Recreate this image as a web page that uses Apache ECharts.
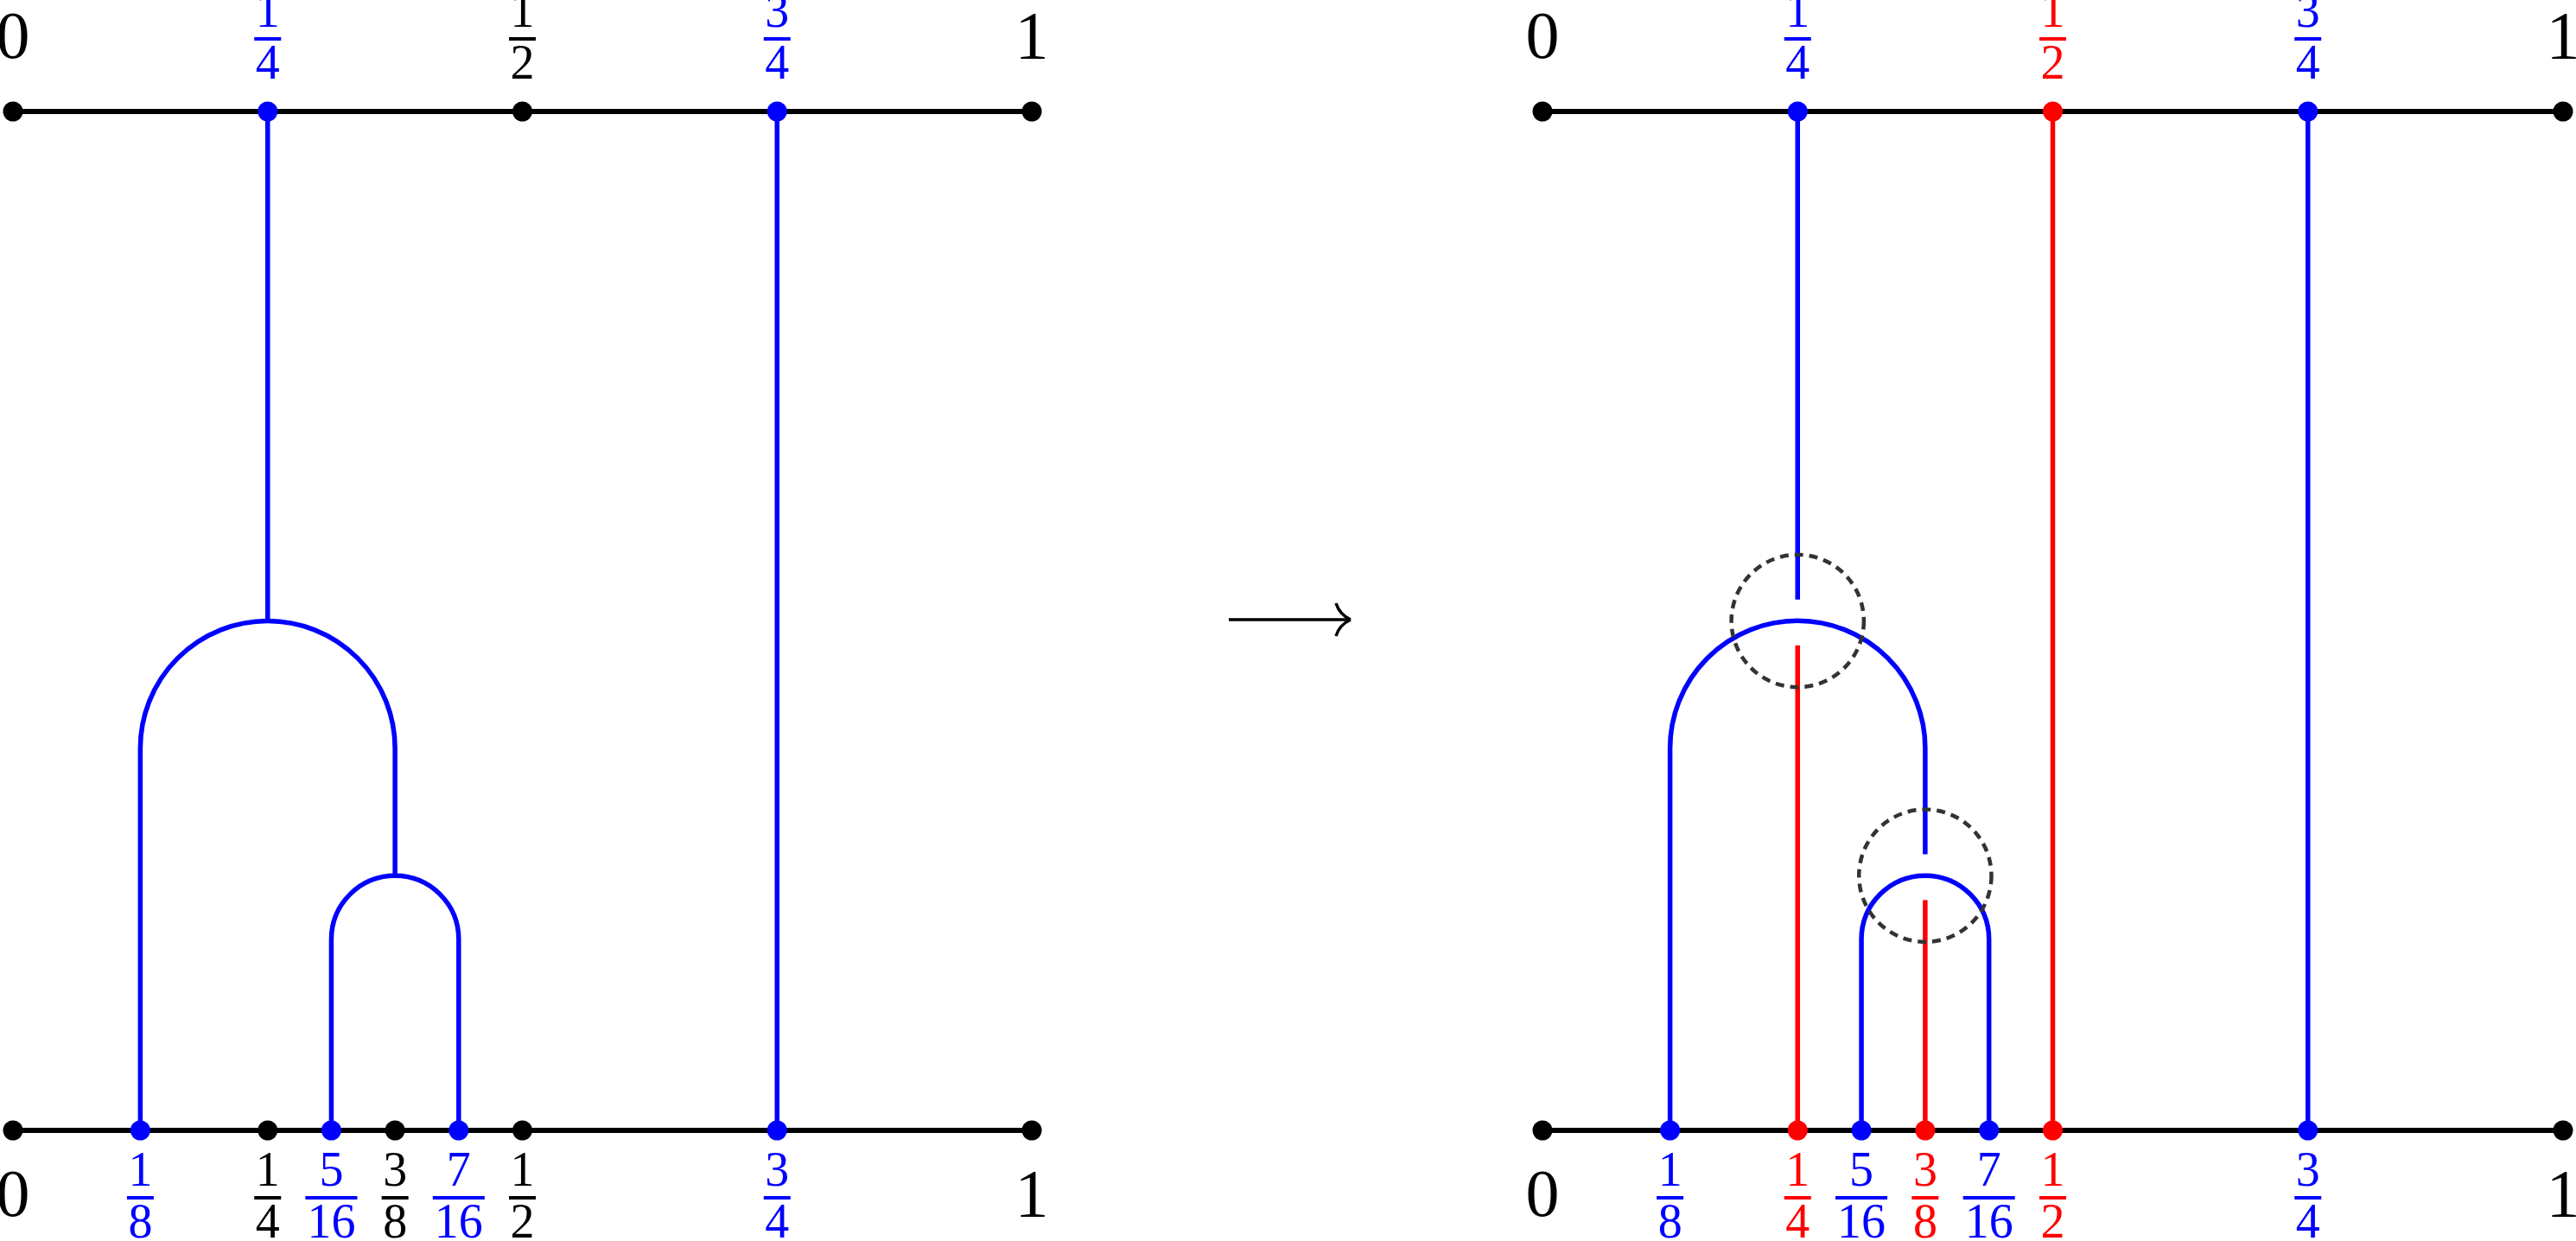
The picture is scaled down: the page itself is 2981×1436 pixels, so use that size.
<!DOCTYPE html>
<html><head><meta charset="utf-8">
<script src="https://cdn.jsdelivr.net/npm/echarts@6/dist/echarts.min.js"></script>
<style>html,body{margin:0;padding:0;background:#fff}#c{width:2981px;height:1436px}</style>
</head><body><div id="c"></div>
<script>
const BLUE='#0000ff', RED='#ff0000', BLACK='#000000';
// axis lines: [panel, y]
const axisLines=[[0,1],[0,0],[1,1],[1,0]];
// segments: [panel, x, y0, y1, color]
const segments=[
 [0,0.25,1,0.5,BLUE],[0,0.125,0,0.375,BLUE],[0,0.375,0.375,0.25,BLUE],
 [0,0.3125,0,0.1875,BLUE],[0,0.4375,0,0.1875,BLUE],[0,0.75,0,1,BLUE],
 [1,0.25,1,0.521,BLUE],[1,0.25,0,0.476,RED],[1,0.5,0,1,RED],
 [1,0.125,0,0.375,BLUE],[1,0.375,0.375,0.271,BLUE],[1,0.375,0,0.226,RED],
 [1,0.3125,0,0.1875,BLUE],[1,0.4375,0,0.1875,BLUE],[1,0.75,0,1,BLUE]
];
// arcs: [panel, cx, cy, r]
const arcs=[[0,0.25,0.375,0.125],[0,0.375,0.1875,0.0625],[1,0.25,0.375,0.125],[1,0.375,0.1875,0.0625]];
// dashed circles: [panel, cx, cy, r]
const circles=[[1,0.25,0.5,0.065],[1,0.375,0.25,0.065]];
// points: [panel, x, y, color]
const points=[
 [0,0,1,BLACK],[0,0.25,1,BLUE],[0,0.5,1,BLACK],[0,0.75,1,BLUE],[0,1,1,BLACK],
 [0,0,0,BLACK],[0,0.125,0,BLUE],[0,0.25,0,BLACK],[0,0.3125,0,BLUE],[0,0.375,0,BLACK],[0,0.4375,0,BLUE],[0,0.5,0,BLACK],[0,0.75,0,BLUE],[0,1,0,BLACK],
 [1,0,1,BLACK],[1,0.25,1,BLUE],[1,0.5,1,RED],[1,0.75,1,BLUE],[1,1,1,BLACK],
 [1,0,0,BLACK],[1,0.125,0,BLUE],[1,0.25,0,RED],[1,0.3125,0,BLUE],[1,0.375,0,RED],[1,0.4375,0,BLUE],[1,0.5,0,RED],[1,0.75,0,BLUE],[1,1,0,BLACK]
];
// labels: [panel, x, y(axis), numerator, denominator('' = plain), color]
const labels=[
 [0,0,1,'0','',BLACK],[0,0.25,1,'1','4',BLUE],[0,0.5,1,'1','2',BLACK],[0,0.75,1,'3','4',BLUE],[0,1,1,'1','',BLACK],
 [0,0,0,'0','',BLACK],[0,0.125,0,'1','8',BLUE],[0,0.25,0,'1','4',BLACK],[0,0.3125,0,'5','16',BLUE],[0,0.375,0,'3','8',BLACK],[0,0.4375,0,'7','16',BLUE],[0,0.5,0,'1','2',BLACK],[0,0.75,0,'3','4',BLUE],[0,1,0,'1','',BLACK],
 [1,0,1,'0','',BLACK],[1,0.25,1,'1','4',BLUE],[1,0.5,1,'1','2',RED],[1,0.75,1,'3','4',BLUE],[1,1,1,'1','',BLACK],
 [1,0,0,'0','',BLACK],[1,0.125,0,'1','8',BLUE],[1,0.25,0,'1','4',RED],[1,0.3125,0,'5','16',BLUE],[1,0.375,0,'3','8',RED],[1,0.4375,0,'7','16',BLUE],[1,0.5,0,'1','2',RED],[1,0.75,0,'3','4',BLUE],[1,1,0,'1','',BLACK]
];
const FONT='"Liberation Serif", serif';
const chart=echarts.init(document.getElementById('c'));
const series=[];
[0,1].forEach(p=>{
  axisLines.filter(a=>a[0]===p).forEach(a=>series.push({type:'line',xAxisIndex:p,yAxisIndex:p,data:[[0,a[1]],[1,a[1]]],symbol:'none',lineStyle:{color:BLACK,width:6},z:2,silent:true}));
  segments.filter(s=>s[0]===p).forEach(s=>series.push({type:'line',xAxisIndex:p,yAxisIndex:p,data:[[s[1],s[2]],[s[1],s[3]]],symbol:'none',lineStyle:{color:s[4],width:5.5},z:3,silent:true}));
  series.push({type:'custom',xAxisIndex:p,yAxisIndex:p,z:3,silent:true,
    data:arcs.filter(a=>a[0]===p).map(a=>[a[1],a[2],a[3]]),
    renderItem:(params,api)=>{const c=api.coord([api.value(0),api.value(1)]);const r=api.size([api.value(2),0])[0];
      return {type:'arc',shape:{cx:c[0],cy:c[1],r:r,startAngle:Math.PI,endAngle:2*Math.PI,clockwise:true},style:{fill:null,stroke:BLUE,lineWidth:5.5}};}});
  const C=circles.filter(a=>a[0]===p);
  if(C.length) series.push({type:'custom',xAxisIndex:p,yAxisIndex:p,z:5,silent:true,
    data:C.map(a=>[a[1],a[2],a[3]]),
    renderItem:(params,api)=>{const c=api.coord([api.value(0),api.value(1)]);const r=api.size([0,api.value(2)])[1];
      return {type:'circle',shape:{cx:c[0],cy:c[1],r:r},style:{fill:null,stroke:'#333',lineWidth:4.5,lineDash:[10,7]}};}});
  series.push({type:'scatter',xAxisIndex:p,yAxisIndex:p,z:6,silent:true,symbolSize:23,
    data:points.filter(a=>a[0]===p).map(a=>({value:[a[1],a[2]],itemStyle:{color:a[3],opacity:1}}))});
  const L=labels.filter(a=>a[0]===p);
  series.push({type:'custom',xAxisIndex:p,yAxisIndex:p,z:7,silent:true,clip:false,
    data:L.map(a=>[a[1],a[2]]),
    renderItem:(params,api)=>{const l=L[params.dataIndex];const c=api.coord([api.value(0),api.value(1)]);
      const top=l[2]===1, col=l[5];
      if(!l[4]){return {type:'text',x:c[0],y:c[1]+(top?-82:79),style:{text:l[3],font:'78px '+FONT,fill:col,align:'center',verticalAlign:'middle'}};}
      const bar=top?-84:78;const w=l[4].length>1?60:31;
      return {type:'group',children:[
        {type:'text',x:c[0],y:c[1]+bar-29,style:{text:l[3],font:'56px '+FONT,fill:col,align:'center',verticalAlign:'middle'}},
        {type:'rect',shape:{x:c[0]-w/2,y:c[1]+bar-2,width:w,height:4},style:{fill:col}},
        {type:'text',x:c[0],y:c[1]+bar+31,style:{text:l[4],font:'56px '+FONT,fill:col,align:'center',verticalAlign:'middle'}}
      ]};}});
});
const ax=i=>({type:'value',min:0,max:1,gridIndex:i,show:false});
chart.setOption({
  animation:false,
  grid:[{left:15,top:129,width:1179,height:1179},{left:1785,top:129,width:1181,height:1179}],
  xAxis:[ax(0),ax(1)],yAxis:[ax(0),ax(1)],
  series:series,
  graphic:[
    {type:'line',shape:{x1:1422,y1:717,x2:1561,y2:717},style:{stroke:BLACK,lineWidth:3.5}},
    {type:'bezierCurve',shape:{x1:1546,y1:698,cpx1:1550,cpy1:711,x2:1563,y2:717},style:{stroke:BLACK,lineWidth:3.5,fill:null}},
    {type:'bezierCurve',shape:{x1:1563,y1:717,cpx1:1550,cpy1:723,x2:1546,y2:736},style:{stroke:BLACK,lineWidth:3.5,fill:null}}
  ]
});
</script></body></html>
